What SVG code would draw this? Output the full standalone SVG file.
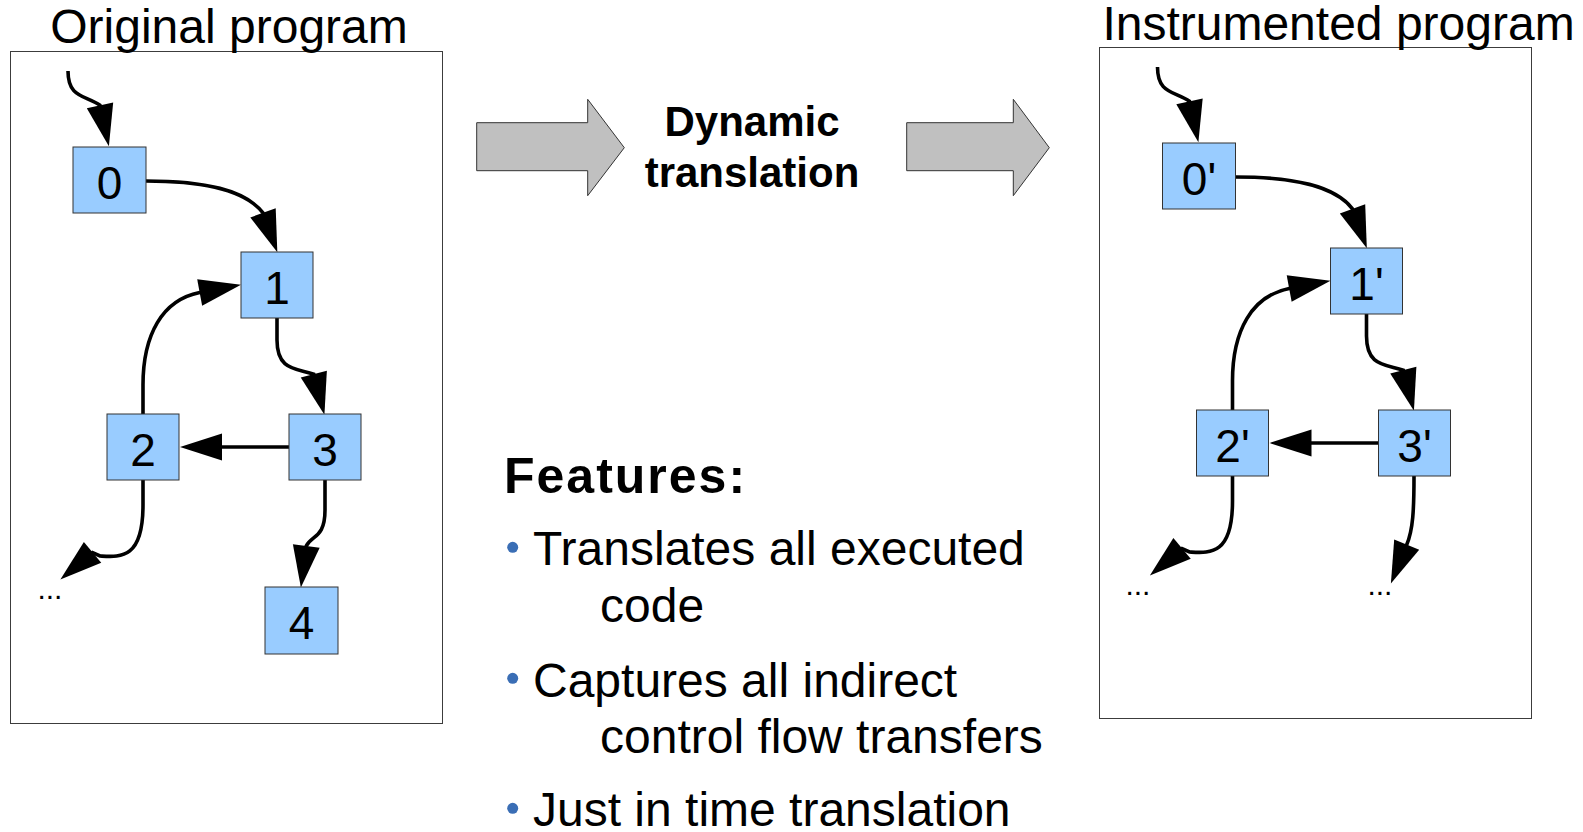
<svg xmlns="http://www.w3.org/2000/svg" width="1583" height="832" viewBox="0 0 1583 832">
  <style>
    .title { font-family: "Liberation Sans", Arial, sans-serif; font-size: 48px; fill: #000; text-anchor: middle; }
    .frame { fill: #fff; stroke: #3c3c3c; stroke-width: 1; }
    .node rect { fill: #99ccff; stroke: #333; stroke-width: 1; }
    .node text { font-family: "Liberation Sans", Arial, sans-serif; font-size: 46px; fill: #000; text-anchor: middle; }
    .edge { fill: none; stroke: #000; stroke-width: 3.6; marker-end: url(#ah); }
    .dots { font-family: "Liberation Sans", Arial, sans-serif; font-size: 30px; fill: #000; }
    .big { fill: #c0c0c0; stroke: #333; stroke-width: 1; }
    .dyn { font-family: "Liberation Sans", Arial, sans-serif; font-size: 42px; font-weight: bold; fill: #000; text-anchor: middle; }
    .feat { font-family: "Liberation Sans", Arial, sans-serif; font-size: 50px; font-weight: bold; letter-spacing: 2px; fill: #000; }
    .item { font-family: "Liberation Sans", Arial, sans-serif; font-size: 48px; fill: #000; }
    .bullet { fill: #3a6eb5; }
  </style>
  <defs>
    <marker id="ah" markerUnits="userSpaceOnUse" viewBox="0 -14 43 28" markerWidth="43" markerHeight="28" refX="34" refY="0" orient="auto" overflow="visible">
      <path d="M0,-13.5 L42,0 L0,13.5 z" fill="#000"/>
    </marker>
  </defs>

  <!-- frames and titles -->
  <g id="original-program">
    <rect class="frame" x="10.5" y="51.5" width="432" height="672"/>
    <text class="title" x="229" y="43">Original program</text>
  </g>
  <g id="instrumented-program">
    <rect class="frame" x="1099.5" y="47.5" width="432" height="671"/>
    <text class="title" x="1338.5" y="40">Instrumented program</text>
  </g>

  <!-- connectors -->
  <g id="connectors">
    <path class="edge" d="M68,71 C68,98 85,95 100,105.3 L107.2,138.5"/>
    <path class="edge" d="M146,181 C205,181 245,190 263,212.8 L274.6,244.8"/>
    <path class="edge" d="M143,414 L143,385 C143,335 162,300 199.7,292.5 L233.1,286.3"/>
    <path class="edge" d="M277,318 L277,340 C277,370 295,368 313.8,374.2 L322.4,407.1"/>
    <path class="edge" d="M289,447 L188,447"/>
    <path class="edge" d="M143,480 L143,505 C143,560 120,557 100,556 L92.5,552.5 L66.5,574.3"/>
    <path class="edge" d="M325,480 L325,510 C325,538 312,535 306.3,545.8 L301.9,579.6"/>

    <path class="edge" d="M1157.5,67 C1157.5,94 1174.5,91 1189.5,101.3 L1196.7,134.5"/>
    <path class="edge" d="M1235.5,177 C1294.5,177 1334.5,186 1352.5,208.8 L1364.1,240.8"/>
    <path class="edge" d="M1232.5,410 L1232.5,381 C1232.5,331 1251.5,296 1289.2,288.5 L1322.6,282.3"/>
    <path class="edge" d="M1366.5,314 L1366.5,336 C1366.5,366 1384.5,364 1403.3,370.2 L1411.9,403.1"/>
    <path class="edge" d="M1378.5,443 L1277.5,443"/>
    <path class="edge" d="M1232.5,476 L1232.5,501 C1232.5,556 1209.5,553 1189.5,552 L1182,548.5 L1156,570.3"/>
    <path class="edge" d="M1414,476 C1414,510 1413,530 1406.7,544.7 L1393.9,576.2"/>
  </g>

  <!-- left nodes -->
  <g id="n0" class="node"><rect x="73" y="147" width="73" height="66"/><text x="109.5" y="199">0</text></g>
  <g id="n1" class="node"><rect x="241" y="252" width="72" height="66"/><text x="277" y="304">1</text></g>
  <g id="n2" class="node"><rect x="107" y="414" width="72" height="66"/><text x="143" y="466">2</text></g>
  <g id="n3" class="node"><rect x="289" y="414" width="72" height="66"/><text x="325" y="466">3</text></g>
  <g id="n4" class="node"><rect x="265" y="587" width="73" height="67"/><text x="301.5" y="639">4</text></g>
  <g id="dots-left"><text class="dots" x="37.4" y="599">...</text></g>

  <!-- right nodes -->
  <g id="n0p" class="node"><rect x="1162.5" y="143" width="73" height="66"/><text x="1199" y="195">0'</text></g>
  <g id="n1p" class="node"><rect x="1330.5" y="248" width="72" height="66"/><text x="1366.5" y="300">1'</text></g>
  <g id="n2p" class="node"><rect x="1196.5" y="410" width="72" height="66"/><text x="1232.5" y="462">2'</text></g>
  <g id="n3p" class="node"><rect x="1378.5" y="410" width="72" height="66"/><text x="1414.5" y="462">3'</text></g>
  <g id="dots-right-1"><text class="dots" x="1125.4" y="595">...</text></g>
  <g id="dots-right-2"><text class="dots" x="1367.4" y="595">...</text></g>

  <!-- big arrows and label -->
  <g id="arrow-left">
    <path class="big" d="M476.7,122.7 L587.7,122.7 L587.7,99.3 L624.3,147.7 L587.7,195.7 L587.7,170.7 L476.7,170.7 z"/>
  </g>
  <g id="dynamic-translation">
    <text class="dyn" x="752" y="135.5">Dynamic</text>
    <text class="dyn" x="752" y="186.5">translation</text>
  </g>
  <g id="arrow-right">
    <path class="big" d="M906.7,122.7 L1013.3,122.7 L1013.3,99.3 L1049.3,147.7 L1013.3,195.7 L1013.3,170.7 L906.7,170.7 z"/>
  </g>

  <!-- features -->
  <g id="features">
    <text class="feat" x="504" y="493">Features:</text>
    <circle class="bullet" cx="512.7" cy="547.3" r="5.5"/>
    <text class="item" x="533" y="565">Translates all executed</text>
    <text class="item" x="600" y="621.7">code</text>
    <circle class="bullet" cx="512.7" cy="678.3" r="5.5"/>
    <text class="item" x="533" y="696.7">Captures all indirect</text>
    <text class="item" x="600" y="753.3">control flow transfers</text>
    <circle class="bullet" cx="512.7" cy="808.3" r="5.5"/>
    <text class="item" x="533" y="826">Just in time translation</text>
  </g>
</svg>
